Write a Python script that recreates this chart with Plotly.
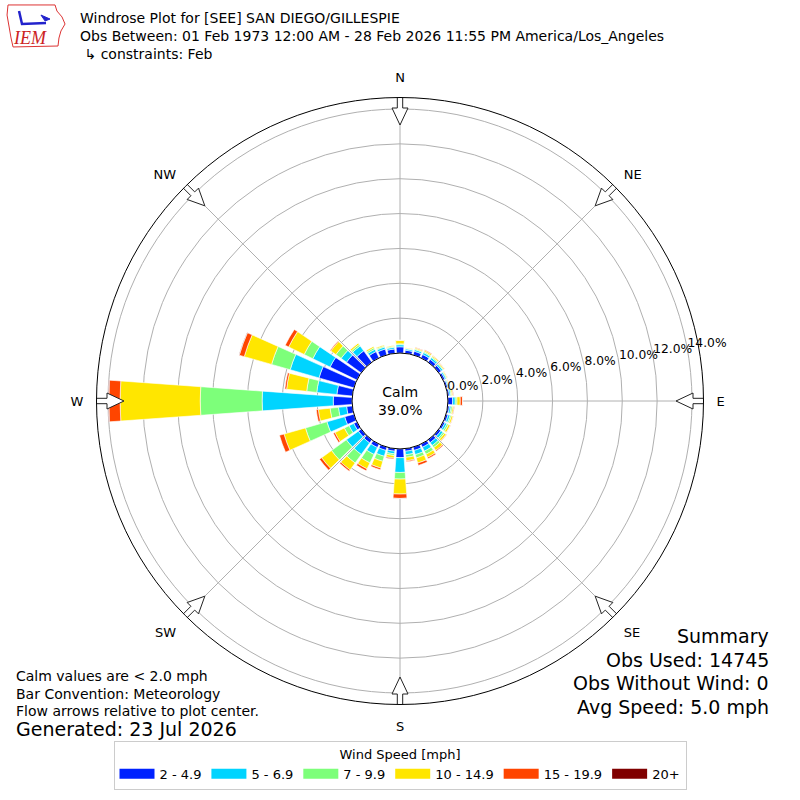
import math
import plotly.graph_objects as go

# wind direction bins (deg, from north clockwise)
directions = list(range(0, 360, 10))

speed_bins = ["2 - 4.9", "5 - 6.9", "7 - 9.9", "10 - 14.9", "15 - 19.9", "20+"]
bin_colors = ["#0022ff", "#00d4ff", "#7dff7a", "#ffe600", "#ff4500", "#800000"]

# frequency (%) per direction for each speed bin
spd_2_5 = [0.36, 0.18, 0.22, 0.22, 0.20, 0.18, 0.12, 0.10, 0.10, 0.27, 0.10, 0.12,
           0.12, 0.15, 0.20, 0.20, 0.20, 0.15, 0.50, 0.15, 0.20, 0.22, 0.22, 0.20,
           0.20, 0.55, 0.33, 1.08, 0.89, 2.08, 1.71, 1.04, 0.80, 0.40, 0.35, 0.25]
spd_5_7 = [0.12, 0.08, 0.10, 0.12, 0.12, 0.10, 0.08, 0.06, 0.08, 0.15, 0.10, 0.12,
           0.12, 0.15, 0.20, 0.25, 0.25, 0.20, 0.85, 0.15, 0.35, 0.44, 0.82, 0.85,
           0.30, 1.06, 0.47, 4.08, 1.16, 1.72, 1.10, 0.38, 0.35, 0.15, 0.12, 0.10]
spd_7_10 = [0.05, 0.03, 0.05, 0.06, 0.06, 0.05, 0.04, 0.04, 0.06, 0.10, 0.08, 0.08,
            0.10, 0.10, 0.15, 0.20, 0.20, 0.15, 0.38, 0.10, 0.30, 0.54, 0.60, 1.05,
            0.30, 1.28, 0.48, 3.55, 0.58, 1.11, 0.55, 0.37, 0.10, 0.10, 0.06, 0.05]
spd_10_15 = [0.20, 0.03, 0.06, 0.08, 0.07, 0.06, 0.05, 0.04, 0.07, 0.19, 0.08, 0.10,
             0.12, 0.12, 0.20, 0.20, 0.30, 0.20, 0.86, 0.15, 0.40, 0.38, 0.49, 0.70,
             0.60, 1.28, 0.68, 4.60, 1.16, 1.63, 0.99, 0.36, 0.10, 0.08, 0.06, 0.05]
spd_15_20 = [0.01, 0.00, 0.02, 0.04, 0.02, 0.01, 0.01, 0.01, 0.03, 0.13, 0.03, 0.02,
             0.02, 0.03, 0.06, 0.08, 0.14, 0.05, 0.25, 0.05, 0.10, 0.12, 0.09, 0.15,
             0.10, 0.27, 0.12, 0.65, 0.10, 0.30, 0.22, 0.05, 0.01, 0.00, 0.00, 0.00]
spd_20_up = [0.00, 0.00, 0.00, 0.00, 0.00, 0.00, 0.00, 0.00, 0.00, 0.01, 0.00, 0.00,
             0.00, 0.00, 0.00, 0.00, 0.00, 0.00, 0.01, 0.00, 0.00, 0.00, 0.00, 0.00,
             0.00, 0.00, 0.00, 0.04, 0.00, 0.02, 0.00, 0.00, 0.00, 0.00, 0.00, 0.00]

series = [spd_2_5, spd_5_7, spd_7_10, spd_10_15, spd_15_20, spd_20_up]

radial_ticks = [0, 2, 4, 6, 8, 10, 12, 14]
compass_deg = [0, 45, 90, 135, 180, 225, 270, 315]
compass_lbl = ["N", "NE", "E", "SE", "S", "SW", "W", "NW"]

calm_pct = 39.0
summary = ["Summary", "Obs Used: 14745", "Obs Without Wind: 0", "Avg Speed: 5.0 mph"]
notes = ["Calm values are < 2.0 mph", "Bar Convention: Meteorology",
         "Flow arrows relative to plot center."]

FONT = "DejaVu Sans"
W = H = 800
CX, CY = 400, 401          # polar centre, px
R_PX = 303.5               # outer radius, px
HOLE = 0.158
RMAX = 14.66
hole_px = HOLE * R_PX
ppu = (R_PX - hole_px) / RMAX
RLABEL_THETA = 80          # compass angle of the radial labels (10 deg above E)

fig = go.Figure()

for name, color, vals in zip(speed_bins, bin_colors, series):
    fig.add_trace(go.Barpolar(
        r=vals, theta=directions, width=8.2, name=name, showlegend=False,
        marker=dict(color=color, line=dict(color="white", width=0.6)),
        hoverinfo="skip",
    ))

# legend entries as wide colour blocks
for name, color in zip(speed_bins, bin_colors):
    fig.add_trace(go.Scatterpolar(
        r=[None], theta=[None], mode="lines", name=name,
        line=dict(color=color, width=10), hoverinfo="skip",
    ))

# radial tick labels, horizontal, to the right of each ring
fig.add_trace(go.Scatterpolar(
    r=radial_ticks, theta=[RLABEL_THETA] * len(radial_ticks), mode="text",
    text=[f"{v:.1f}%" for v in radial_ticks], textposition="top right",
    textfont=dict(family=FONT, size=12.3, color="black"),
    showlegend=False, hoverinfo="skip", cliponaxis=False,
))

# hollow block arrows pointing to the centre, shape in px (along, across)
arrow_px = [(276, 0), (293, 8), (293, 2.7), (306, 2.7), (306, -2.7),
            (293, -2.7), (293, -8), (276, 0)]
for d in compass_deg:
    rr, tt = [], []
    for u, v in arrow_px:
        rr.append((math.hypot(u, v) - hole_px) / ppu)
        tt.append(d + math.degrees(math.atan2(v, u)))
    fig.add_trace(go.Scatterpolar(
        r=rr, theta=tt, mode="lines", fill="toself", fillcolor="white",
        line=dict(color="#222222", width=1), showlegend=False,
        hoverinfo="skip", cliponaxis=False,
    ))

dom_x = [(CX - R_PX) / W, (CX + R_PX) / W]
dom_y = [(H - CY - R_PX) / H, (H - CY + R_PX) / H]


def px_path(pts):
    # pixel points (from top-left) -> svg path in paper coords
    return "M " + " L ".join(f"{x / W:.4f},{1 - y / H:.4f}" for x, y in pts)


# rough IEM logo: red state outline + blue station glyph
logo_outline = [(8, 5), (55, 5), (57, 11), (62, 17), (65, 24), (61, 31),
                (59, 38), (58, 46), (13, 47), (11, 38), (9, 26), (7, 15), (8, 5)]
logo_glyph = [(19, 11), (22, 24), (46, 23)]
logo_flag = [(41, 15), (50, 19), (45, 21)]

fig.update_layout(
    width=W, height=H,
    margin=dict(l=0, r=0, t=0, b=0),
    paper_bgcolor="white",
    font=dict(family=FONT, size=13, color="black"),
    polar=dict(
        domain=dict(x=dom_x, y=dom_y),
        hole=HOLE,
        bgcolor="white",
        barmode="stack",
        radialaxis=dict(
            range=[0, RMAX], tickvals=radial_ticks, showticklabels=False,
            showline=False, ticks="",
            gridcolor="#b0b0b0", gridwidth=1,
        ),
        angularaxis=dict(
            rotation=90, direction="clockwise",
            tickvals=compass_deg, ticktext=compass_lbl,
            ticks="outside", ticklen=10, tickcolor="rgba(0,0,0,0)",
            showline=True, linecolor="black", linewidth=1,
            gridcolor="#b0b0b0", gridwidth=1,
            tickfont=dict(family=FONT, size=13),
        ),
    ),
    legend=dict(
        orientation="h", x=0.5, xanchor="center", y=1 - 741 / H, yanchor="top",
        bordercolor="#cccccc", borderwidth=1,
        title=dict(text="Wind Speed [mph]", side="top center",
                   font=dict(family=FONT, size=13)),
        font=dict(family=FONT, size=13), itemwidth=35,
    ),
    shapes=[
        dict(type="path", path=px_path(logo_outline), xref="paper", yref="paper",
             line=dict(color="#dd3333", width=1)),
        dict(type="path", path=px_path(logo_glyph), xref="paper", yref="paper",
             line=dict(color="#2222cc", width=2.5)),
        dict(type="path", path=px_path(logo_flag) + " Z", xref="paper", yref="paper",
             line=dict(color="#2222cc", width=1), fillcolor="#2222cc"),
    ],
)

ann = []
# title block
title_lines = ["Windrose Plot for [SEE] SAN DIEGO/GILLESPIE",
               "Obs Between: 01 Feb 1973 12:00 AM - 28 Feb 2026 11:55 PM America/Los_Angeles",
               " \u21b3 constraints: Feb"]
for i, t in enumerate(title_lines):
    ann.append(dict(text=t, x=78, y=18 + 18 * i, xanchor="left", showarrow=False,
                    font=dict(family=FONT, size=14)))
ann.append(dict(text="<i>IEM</i>", x=30, y=38, xanchor="center", showarrow=False,
                font=dict(family="Liberation Serif", size=18, color="#cc2222")))
ann.append(dict(text="Calm<br>%.1f%%" % calm_pct, x=CX, y=CY, xanchor="center",
                showarrow=False, font=dict(family=FONT, size=14)))
for i, t in enumerate(summary):
    ann.append(dict(text=t, x=771, y=636 + 23.5 * i, xanchor="right",
                    showarrow=False, font=dict(family=FONT, size=19)))
for i, t in enumerate(notes):
    ann.append(dict(text=t, x=14, y=676 + 17.5 * i, xanchor="left",
                    showarrow=False, font=dict(family=FONT, size=14)))
ann.append(dict(text="Generated: 23 Jul 2026", x=14, y=729, xanchor="left",
                showarrow=False, font=dict(family=FONT, size=19)))

# annotations are placed in pixel terms: convert to paper coords
for a in ann:
    a["xref"] = "paper"
    a["yref"] = "paper"
    a["x"] = a["x"] / W
    a["y"] = 1 - a["y"] / H
    a["yanchor"] = "middle"
fig.update_layout(annotations=ann)

fig.write_html("out.html", config={"displayModeBar": False},
               post_script="document.body.style.margin='0px';")
